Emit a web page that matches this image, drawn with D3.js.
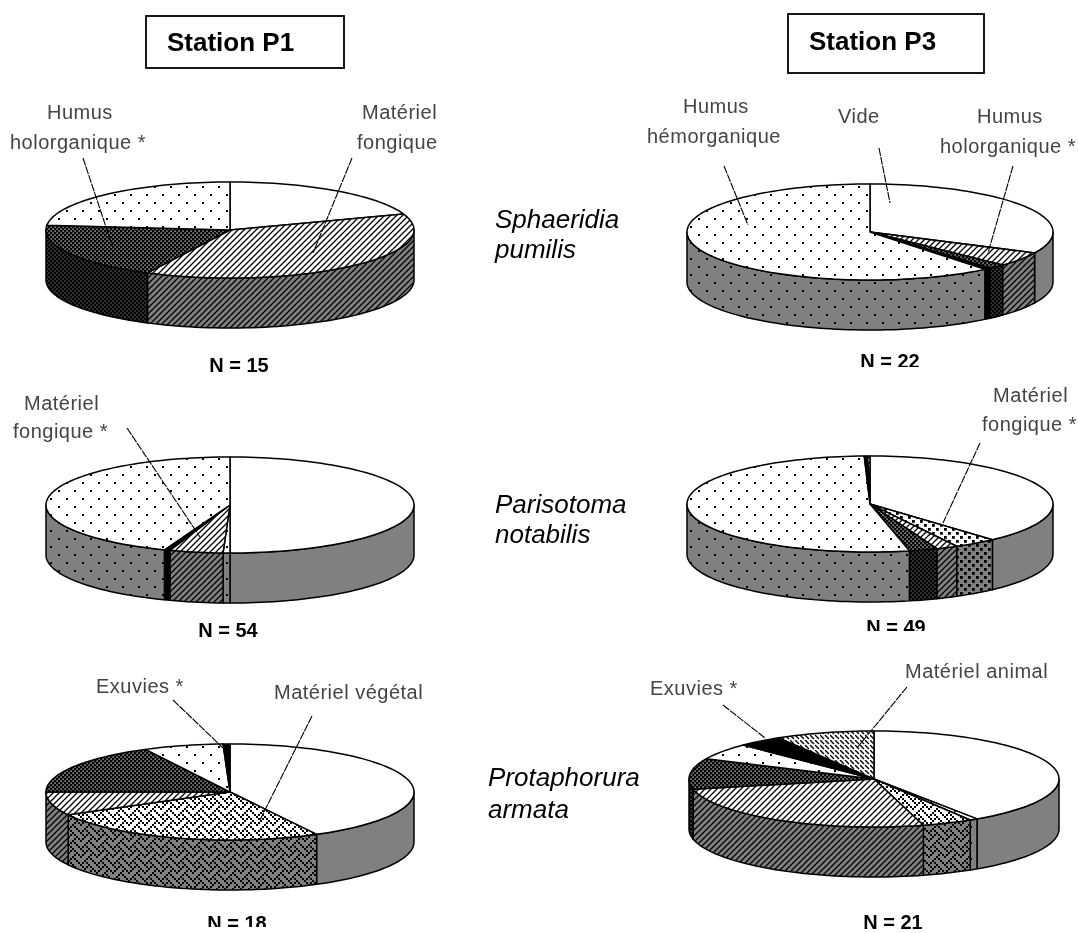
<!DOCTYPE html>
<html lang="fr">
<head>
  <meta charset="UTF-8">
  <script src="https://d3js.org/d3.v7.min.js"></script>
  <title>Stations P1 / P3</title>
  <style>
    body { margin: 0; background: #fff; font-family: "Liberation Sans", Arial, sans-serif; }
    svg { display: block; filter: blur(0.35px); }
    .lbl { font-size: 20px; fill: #444; letter-spacing: 0.5px; }
    .sp { font-size: 26px; font-style: italic; fill: #000; }
    .st { font-size: 26px; font-weight: bold; fill: #000; }
    .n { font-size: 20px; font-weight: bold; fill: #000; }
  </style>
</head>
<body>
<script>
  // Percentages, clockwise from 12 o'clock
  const p1SphaeridiaValues = [19.6, 37.8, 19.2, 23.4];
  const p1SphaeridiaFills = ["none", "hatch", "fine", "sparse"];
  const p3SphaeridiaValues = [32.2, 4.9, 1.5, 0.6, 60.8];
  const p3SphaeridiaFills = ["none", "hatch", "fine", "black", "sparse"];
  const p1ParisotomaValues = [50, 0.6, 4.7, 0.5, 44.2];
  const p1ParisotomaFills = ["none", "sparse", "hatch", "black", "sparse"];
  const p3ParisotomaValues = [38.3, 3.8, 1.9, 2.5, 52.9, 0.3, 0.2];
  const p3ParisotomaFills = ["none", "big", "hatch", "fine", "sparse", "black", "hatch"];
  const p1ProtaphoruraValues = [42.2, 24.9, 7.9, 17.4, 7, 0.6];
  const p1ProtaphoruraFills = ["none", "weave", "hatch", "fine", "sparse", "black"];
  const p3ProtaphoruraValues = [40.6, 0.7, 4.4, 25.9, 10.3, 5.6, 3.9, 8.6];
  const p3ProtaphoruraFills = ["none", "sparse", "weave", "hatch", "fine", "sparse", "black", "back"];

  const stationNames = ["Station P1", "Station P3"];
  const speciesNames = [["Sphaeridia", "pumilis"], ["Parisotoma", "notabilis"], ["Protaphorura", "armata"]];

  // cx, cy, rx, ry, depth of each pie
  const pies = [
    { v: p1SphaeridiaValues, f: p1SphaeridiaFills, g: [230, 230, 184, 48, 50], n: "N = 15", nx: 239, ny: 372 },
    { v: p3SphaeridiaValues, f: p3SphaeridiaFills, g: [870, 232, 183, 48, 50], n: "N = 22", nx: 890, ny: 368, clip: 367 },
    { v: p1ParisotomaValues, f: p1ParisotomaFills, g: [230, 505, 184, 48, 50], n: "N = 54", nx: 228, ny: 637 },
    { v: p3ParisotomaValues, f: p3ParisotomaFills, g: [870, 504, 183, 48, 50], n: "N = 49", nx: 896, ny: 634, clip: 631 },
    { v: p1ProtaphoruraValues, f: p1ProtaphoruraFills, g: [230, 792, 184, 48, 50], n: "N = 18", nx: 237, ny: 930, clip: 927 },
    { v: p3ProtaphoruraValues, f: p3ProtaphoruraFills, g: [874, 779, 185, 48, 50], n: "N = 21", nx: 893, ny: 928.5 }
  ];

  // x, baseline, text
  const labels = [
    [47, 119, "Humus"], [10, 149, "holorganique *"], [362, 119, "Matériel"], [357, 149, "fongique"],
    [683, 113, "Humus"], [647, 143, "hémorganique"], [838, 123, "Vide"], [977, 123, "Humus"], [940, 153, "holorganique *"],
    [24, 410, "Matériel"], [13, 438, "fongique *"], [993, 402, "Matériel"], [982, 431, "fongique *"],
    [96, 693, "Exuvies *"], [274, 699, "Matériel végétal"], [650, 695, "Exuvies *"], [905, 678, "Matériel animal"]
  ];

  // x1, y1, x2, y2 of the leader lines
  const leaders = [
    [83, 158, 113, 248], [352, 158, 313, 253],
    [724, 166, 748, 225], [879, 148, 890, 203], [1013, 166, 988, 253],
    [127, 428, 200, 537], [980, 443, 943, 523],
    [173, 700, 223, 748], [312, 716, 260, 820],
    [723, 705, 765, 738], [907, 687, 857, 748]
  ];

  // 8x8 weave bitmap, drawn with 2px cells
  const weaveRows = ["10001000", "01010100", "00100010", "01000101", "10001000", "00010100", "00100010", "01010001"];

  const width = 1078, height = 933;
  const svg = d3.select("body").append("svg").attr("width", width).attr("height", height);
  const defs = svg.append("defs");

  // Each hatch exists twice: on white for the top face, on grey for the wall
  function addPattern(name, bg, w, h, draw) {
    const p = defs.append("pattern").attr("id", name + "-" + bg.slice(1))
      .attr("patternUnits", "userSpaceOnUse").attr("width", w).attr("height", h);
    p.append("rect").attr("width", w).attr("height", h).attr("fill", bg);
    draw(p, bg);
  }

  ["#ffffff", "#808080"].forEach(bg => {
    addPattern("sparse", bg, 16, 16, p => {
      [[2, 2], [10, 10]].forEach(c => p.append("rect").attr("x", c[0]).attr("y", c[1]).attr("width", 2).attr("height", 2).attr("fill", "#000"));
    });
    addPattern("fine", bg, 4, 4, (p, b) => {
      p.append("rect").attr("width", 4).attr("height", 4).attr("fill", "#000");
      [[0.5, 0.5], [2.5, 2.5]].forEach(c => p.append("rect").attr("x", c[0]).attr("y", c[1]).attr("width", 1.2).attr("height", 1.2).attr("fill", b));
    });
    addPattern("hatch", bg, 6, 6, p => {
      p.append("path").attr("d", "M-1,1L1,-1M0,6L6,0M5,7L7,5").attr("stroke", "#000").attr("stroke-width", 1.3);
    });
    addPattern("back", bg, 10, 10, p => {
      p.append("path").attr("d", "M0,0L4,4M5,0L9,4M0,5L4,9M5,5L9,9").attr("stroke", "#000").attr("stroke-width", 1.4);
    });
    addPattern("big", bg, 8, 8, p => {
      [[0, 0], [4, 4]].forEach(c => p.append("rect").attr("x", c[0]).attr("y", c[1]).attr("width", 2.8).attr("height", 2.8).attr("fill", "#000"));
    });
    addPattern("weave", bg, 16, 16, p => {
      weaveRows.forEach((row, r) => row.split("").forEach((bit, c) => {
        if (bit === "1") p.append("rect").attr("x", c * 2).attr("y", r * 2).attr("width", 2).attr("height", 2).attr("fill", "#000");
      }));
    });
  });

  function paint(name, bg) {
    if (name === "none") return bg;
    if (name === "black") return "#000";
    return "url(#" + name + "-" + bg.slice(1) + ")";
  }

  const pieGen = d3.pie().sort(null).value(d => d);
  const STEP = Math.PI / 90;

  pies.forEach(pie => {
    const [cx, cy, rx, ry, depth] = pie.g;
    const x = d3.scaleLinear().domain([-1, 1]).range([cx - rx, cx + rx]);
    const y = d3.scaleLinear().domain([-1, 1]).range([cy + ry, cy - ry]);
    const rim = (a0, a1) => {
      const n = Math.max(1, Math.ceil(Math.abs(a1 - a0) / STEP));
      return d3.range(n + 1).map(i => a0 + (a1 - a0) * i / n);
    };
    const line = d3.line().x(d => x(Math.sin(d))).y(d => y(Math.cos(d)));
    const wall = d3.line().x(d => x(Math.sin(d))).y(d => y(Math.cos(d)) + depth);
    const g = svg.append("g").attr("stroke", "#000").attr("stroke-width", 1.5).attr("stroke-linejoin", "round");
    const arcs = pieGen(pie.v).map((d, i) => ({ a0: d.startAngle, a1: d.endAngle, fill: pie.f[i] }));

    // walls, only for the part of a slice on the front half
    arcs.forEach(d => {
      const a0 = Math.max(d.a0, Math.PI / 2), a1 = Math.min(d.a1, 3 * Math.PI / 2);
      if (a1 <= a0) return;
      const pts = rim(a0, a1);
      const dPath = line(pts) + "L" + wall(pts.slice().reverse()).slice(1) + "Z";
      g.append("path").attr("d", dPath).attr("fill", paint(d.fill, "#808080"));
    });

    // top face
    arcs.forEach(d => {
      const dPath = "M" + x(0) + "," + y(0) + "L" + line(rim(d.a0, d.a1)).slice(1) + "Z";
      g.append("path").attr("d", dPath).attr("fill", paint(d.fill, "#ffffff"));
    });

    const txt = svg.append("text").attr("class", "n").attr("x", pie.nx).attr("y", pie.ny)
      .attr("text-anchor", "middle").text(pie.n);
    if (pie.clip) {
      const id = "clip" + pie.clip;
      defs.append("clipPath").attr("id", id).append("rect").attr("x", 0).attr("y", 0).attr("width", width).attr("height", pie.clip);
      txt.attr("clip-path", "url(#" + id + ")");
    }
  });

  svg.append("g").selectAll("line").data(leaders).join("line")
    .attr("x1", d => d[0]).attr("y1", d => d[1]).attr("x2", d => d[2]).attr("y2", d => d[3])
    .attr("stroke", "#000").attr("stroke-width", 1.1).attr("stroke-dasharray", "8 1");

  svg.append("g").selectAll("text").data(labels).join("text").attr("class", "lbl")
    .attr("x", d => d[0]).attr("y", d => d[1]).text(d => d[2]);

  // station boxes
  const boxes = [[146, 16, 198, 52, 167, 51], [788, 14, 196, 59, 809, 50]];
  boxes.forEach((b, i) => {
    svg.append("rect").attr("x", b[0]).attr("y", b[1]).attr("width", b[2]).attr("height", b[3])
      .attr("fill", "#fff").attr("stroke", "#000").attr("stroke-width", 1.8);
    svg.append("text").attr("class", "st").attr("x", b[4]).attr("y", b[5]).text(stationNames[i]);
  });

  // species names between the two columns
  const speciesPos = [[495, 228, 258], [495, 513, 543], [488, 786, 818]];
  speciesNames.forEach((s, i) => {
    s.forEach((t, j) => {
      svg.append("text").attr("class", "sp").attr("x", speciesPos[i][0]).attr("y", speciesPos[i][j + 1]).text(t);
    });
  });
</script>
</body>
</html>
